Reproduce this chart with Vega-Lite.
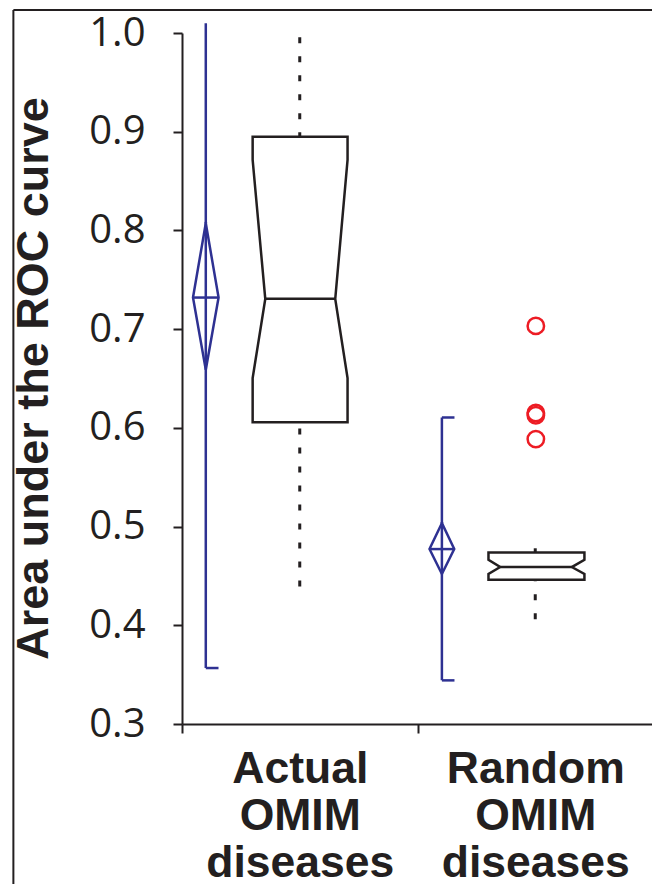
{
  "$schema": "https://vega.github.io/schema/vega-lite/v6.json",
  "width": 471,
  "height": 691,
  "autosize": "none",
  "padding": {"left": 182, "top": 33, "right": 0, "bottom": 160},
  "background": "white",
  "config": {
    "view": {"stroke": null},
    "axis": {"domainColor": "#231f20", "tickColor": "#231f20", "labelColor": "#231f20", "titleColor": "#231f20", "domainWidth": 2, "tickWidth": 2, "grid": false}
  },
  "datasets": {
    "frame": [
      {"x": -0.716, "x2": -0.716, "y": 1.0233, "y2": 0.13},
      {"x": -0.716, "x2": 2.0, "y": 1.0233, "y2": 1.0233}
    ],
    "meanrules": [
      {"group": "Actual", "kind": "range", "x": 0.101, "x2": 0.101, "y": 1.0098, "y2": 0.3567},
      {"group": "Actual", "kind": "cap", "x": 0.101, "x2": 0.155, "y": 0.3567, "y2": 0.3567},
      {"group": "Actual", "kind": "mean", "x": 0.0467, "x2": 0.1553, "y": 0.732, "y2": 0.732},
      {"group": "Random", "kind": "range", "x": 1.1036, "x2": 1.1036, "y": 0.6105, "y2": 0.3442},
      {"group": "Random", "kind": "cap", "x": 1.1036, "x2": 1.157, "y": 0.6105, "y2": 0.6105},
      {"group": "Random", "kind": "cap", "x": 1.1036, "x2": 1.157, "y": 0.3442, "y2": 0.3442},
      {"group": "Random", "kind": "mean", "x": 1.051, "x2": 1.156, "y": 0.4772, "y2": 0.4772}
    ],
    "medians": [
      {"group": "Actual", "x": 0.3536, "x2": 0.6507, "y": 0.7307},
      {"group": "Random", "x": 1.351, "x2": 1.6553, "y": 0.459}
    ],
    "whiskers": [
      {"group": "Actual", "x": 0.5, "y": 0.9956, "y2": 0.895},
      {"group": "Actual", "x": 0.5, "y": 0.4394, "y2": 0.6058},
      {"group": "Random", "x": 1.5, "y": 0.478, "y2": 0.4738},
      {"group": "Random", "x": 1.5, "y": 0.406, "y2": 0.4461}
    ],
    "shapes": [
      {"id": "d1", "part": "mean", "i": 0, "x": 0.101, "y": 0.8073},
      {"id": "d1", "part": "mean", "i": 1, "x": 0.1553, "y": 0.732},
      {"id": "d1", "part": "mean", "i": 2, "x": 0.101, "y": 0.6588},
      {"id": "d1", "part": "mean", "i": 3, "x": 0.0467, "y": 0.732},
      {"id": "d1", "part": "mean", "i": 4, "x": 0.101, "y": 0.8073},
      {"id": "d2", "part": "mean", "i": 0, "x": 1.1036, "y": 0.5035},
      {"id": "d2", "part": "mean", "i": 1, "x": 1.156, "y": 0.4772},
      {"id": "d2", "part": "mean", "i": 2, "x": 1.1036, "y": 0.4519},
      {"id": "d2", "part": "mean", "i": 3, "x": 1.051, "y": 0.4772},
      {"id": "d2", "part": "mean", "i": 4, "x": 1.1036, "y": 0.5035},
      {"id": "b1", "part": "box", "i": 0, "x": 0.3, "y": 0.895},
      {"id": "b1", "part": "box", "i": 1, "x": 0.703, "y": 0.895},
      {"id": "b1", "part": "box", "i": 2, "x": 0.703, "y": 0.8714},
      {"id": "b1", "part": "box", "i": 3, "x": 0.6507, "y": 0.7307},
      {"id": "b1", "part": "box", "i": 4, "x": 0.703, "y": 0.6504},
      {"id": "b1", "part": "box", "i": 5, "x": 0.703, "y": 0.6058},
      {"id": "b1", "part": "box", "i": 6, "x": 0.3, "y": 0.6058},
      {"id": "b1", "part": "box", "i": 7, "x": 0.3, "y": 0.6504},
      {"id": "b1", "part": "box", "i": 8, "x": 0.3536, "y": 0.7307},
      {"id": "b1", "part": "box", "i": 9, "x": 0.3, "y": 0.8714},
      {"id": "b1", "part": "box", "i": 10, "x": 0.3, "y": 0.895},
      {"id": "b2", "part": "box", "i": 0, "x": 1.3014, "y": 0.4738},
      {"id": "b2", "part": "box", "i": 1, "x": 1.7088, "y": 0.4738},
      {"id": "b2", "part": "box", "i": 2, "x": 1.7088, "y": 0.4664},
      {"id": "b2", "part": "box", "i": 3, "x": 1.6553, "y": 0.459},
      {"id": "b2", "part": "box", "i": 4, "x": 1.7088, "y": 0.452},
      {"id": "b2", "part": "box", "i": 5, "x": 1.7088, "y": 0.4461},
      {"id": "b2", "part": "box", "i": 6, "x": 1.3014, "y": 0.4461},
      {"id": "b2", "part": "box", "i": 7, "x": 1.3014, "y": 0.452},
      {"id": "b2", "part": "box", "i": 8, "x": 1.351, "y": 0.459},
      {"id": "b2", "part": "box", "i": 9, "x": 1.3014, "y": 0.4664},
      {"id": "b2", "part": "box", "i": 10, "x": 1.3014, "y": 0.4738}
    ],
    "outliers": [
      {"group": "Random", "x": 1.5025, "y": 0.7033},
      {"group": "Random", "x": 1.5025, "y": 0.615},
      {"group": "Random", "x": 1.5025, "y": 0.6128},
      {"group": "Random", "x": 1.5025, "y": 0.5886}
    ]
  },
  "layer": [
    {
      "data": {"name": "frame"},
      "mark": {"type": "rule", "color": "#231f20", "strokeWidth": 2},
      "encoding": {
        "x": {"field": "x", "type": "quantitative", "scale": {"domain": [0, 2], "nice": false, "zero": false},
              "axis": {"orient": "bottom", "values": [0, 0.5, 1, 1.5, 2], "tickSize": 9, "title": null,
                       "tickOpacity": {"condition": {"test": "datum.value == 0.5 || datum.value == 1.5", "value": 0}, "value": 1},
                       "labelExpr": "datum.value == 0.5 ? ['Actual', 'OMIM', 'diseases'] : datum.value == 1.5 ? ['Random', 'OMIM', 'diseases'] : ''",
                       "labelOverlap": false, "labelFlush": false, "labelBound": false, "labelLimit": 0,
                       "labelFont": "Liberation Sans", "labelFontWeight": "bold", "labelFontSize": 44.5,
                       "labelLineHeight": 47, "labelPadding": 14}},
        "x2": {"field": "x2"},
        "y": {"field": "y", "type": "quantitative", "scale": {"domain": [0.3, 1.0], "nice": false, "zero": false},
              "axis": {"orient": "left", "values": [0.3, 0.4, 0.5, 0.6, 0.7, 0.8, 0.9, 1.0], "format": ".1f", "tickSize": 9,
                       "labelFont": "Open Sans", "labelFontSize": 40, "labelPadding": 28,
                       "title": "Area under the ROC curve", "titleFont": "Liberation Sans", "titleFontWeight": "bold",
                       "titleFontSize": 45, "titleAngle": 270, "titleX": -135, "titleY": 345, "titleAlign": "center",
                       "titleBaseline": "alphabetic"}},
        "y2": {"field": "y2"}
      }
    },
    {
      "data": {"name": "meanrules"},
      "mark": {"type": "rule", "color": "#2e3192", "strokeWidth": 2.5},
      "encoding": {
        "x": {"field": "x", "type": "quantitative"},
        "x2": {"field": "x2"},
        "y": {"field": "y", "type": "quantitative"},
        "y2": {"field": "y2"}
      }
    },
    {
      "data": {"name": "medians"},
      "mark": {"type": "rule", "color": "#231f20", "strokeWidth": 2.5},
      "encoding": {
        "x": {"field": "x", "type": "quantitative"},
        "x2": {"field": "x2"},
        "y": {"field": "y", "type": "quantitative"}
      }
    },
    {
      "data": {"name": "whiskers"},
      "mark": {"type": "rule", "color": "#231f20", "strokeWidth": 3, "strokeDash": [6, 13]},
      "encoding": {
        "x": {"field": "x", "type": "quantitative"},
        "y": {"field": "y", "type": "quantitative"},
        "y2": {"field": "y2"}
      }
    },
    {
      "data": {"name": "shapes"},
      "mark": {"type": "line", "strokeWidth": 2.5, "strokeJoin": "miter", "strokeCap": "square"},
      "encoding": {
        "x": {"field": "x", "type": "quantitative"},
        "y": {"field": "y", "type": "quantitative"},
        "order": {"field": "i", "type": "quantitative"},
        "detail": {"field": "id", "type": "nominal"},
        "color": {"field": "part", "type": "nominal", "scale": {"domain": ["mean", "box"], "range": ["#2e3192", "#231f20"]}, "legend": null}
      }
    },
    {
      "data": {"name": "outliers"},
      "mark": {"type": "point", "shape": "circle", "filled": false, "color": "#ed1c24", "strokeWidth": 2.5, "size": 270, "opacity": 1},
      "encoding": {
        "x": {"field": "x", "type": "quantitative"},
        "y": {"field": "y", "type": "quantitative"}
      }
    }
  ]
}
